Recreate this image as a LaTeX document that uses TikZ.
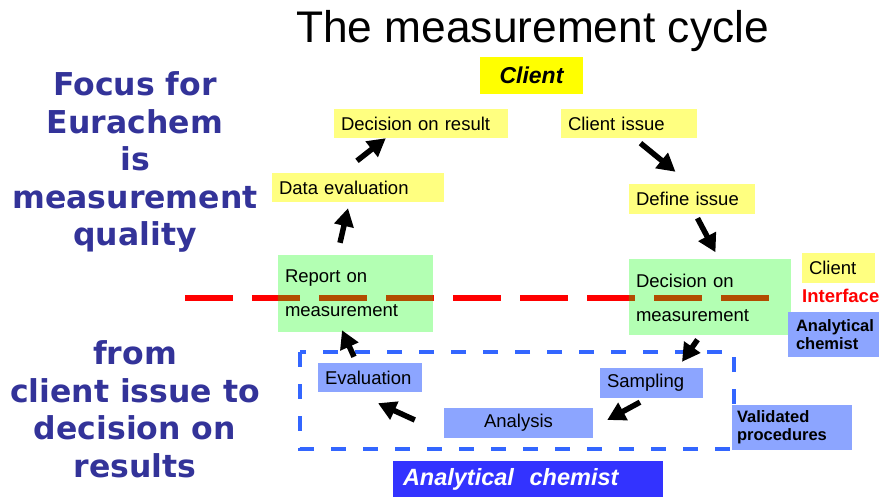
\documentclass[tikz,border=0pt]{standalone}
\usepackage{fontspec}
\setmainfont{Liberation Sans}
\newfontfamily\dejavu{DejaVu Sans}
\usetikzlibrary{arrows.meta}
\definecolor{lyellow}{RGB}{255,255,128}
\definecolor{byellow}{RGB}{255,255,0}
\definecolor{lgreen}{RGB}{179,255,179}
\definecolor{lblue}{RGB}{140,165,255}
\definecolor{dblue}{RGB}{51,51,255}
\definecolor{navy}{RGB}{51,51,153}
\definecolor{dashblue}{RGB}{51,102,255}
\definecolor{brownish}{RGB}{178,76,0}
\tikzset{
  bx/.style={inner xsep=7pt, inner ysep=0pt, align=left, anchor=center,
    font=\fontsize{18.5}{34}\selectfont},
  ybox/.style={bx, fill=lyellow},
  gbox/.style={bx, fill=lgreen},
  bbox/.style={bx, fill=lblue},
  bbold/.style={bx, fill=lblue, font=\fontsize{16.5}{18}\selectfont\bfseries},
  arr/.style={line width=5.5pt, -{Triangle[length=18pt,width=19pt]}, black},
  lefttext/.style={align=center, text=navy, font=\dejavu\fontsize{31.5}{37.5}\selectfont\bfseries}
}
\begin{document}
\begin{tikzpicture}[x=1pt,y=-1pt]
\useasboundingbox (0,0) rectangle (879,497);
% title
\node[anchor=base, font=\fontsize{44.3}{50}\selectfont, inner sep=0pt] (title) at (532.5,43) {The measurement cycle};
\node[bx, fill=byellow, minimum width=103pt, minimum height=37pt, align=center,
  font=\fontsize{23}{26}\selectfont\bfseries\itshape] (clienttop) at (531.5,75.5) {Client};
% left texts
\node[lefttext] (focus) at (135,162) {Focus for\\Eurachem\\is\\measurement\\quality};
\node[lefttext] (from) at (135,409.5) {from\\client issue to\\decision on\\results};
% client boxes
\node[ybox, minimum width=174pt, text width=160pt, minimum height=29pt] (decres) at (421,123.5) {Decision on result};
\node[ybox, minimum width=172pt, text width=158pt, minimum height=29pt] (dataeval) at (358,187.5) {Data evaluation};
\node[ybox, minimum width=136pt, text width=122pt, minimum height=29pt] (cissue) at (629,123.5) {Client issue};
\node[ybox, minimum width=126pt, text width=112pt, minimum height=30pt] (defiss) at (692,199) {Define issue};
% green boxes
\node[gbox, minimum width=155pt, text width=141pt, minimum height=77pt] (report) at (355.5,293.5) {Report on\\measurement};
\node[gbox, minimum width=162pt, text width=148pt, minimum height=76pt] (decmeas) at (710,297.5) {Decision on\\measurement};
% interface line
\draw[red, line width=6pt, dash pattern=on 48pt off 19pt] (185,298) -- (770,298);
\begin{scope}
  \clip (report.south west) rectangle (report.north east)
        (decmeas.south west) rectangle (decmeas.north east);
  \draw[brownish, line width=6pt, dash pattern=on 48pt off 19pt] (185,298) -- (770,298);
\end{scope}
% legend
\node[ybox, minimum width=73pt, text width=59pt, minimum height=30pt] (clientR) at (838.5,268) {Client};
\node[anchor=base west, inner sep=0pt, text=red, font=\fontsize{18.5}{20}\selectfont\bfseries] (interface) at (802,303) {Interface};
\node[bbold, inner xsep=8pt, minimum width=94pt, text width=78pt, minimum height=45pt] (achemR) at (835,334.5) {Analytical\\chemist};
% analytical area
\draw[dashblue, line width=4pt, dash pattern=on 15pt off 17pt] (300,352) rectangle (734,449);
\node[bbox, minimum width=104pt, text width=90pt, minimum height=29pt] (evaluation) at (370,377.5) {Evaluation};
\node[bbox, minimum width=103pt, text width=89pt, minimum height=30pt] (sampling) at (651.5,383) {Sampling};
\node[bbox, align=center, minimum width=149pt, text width=135pt, minimum height=30pt] (analysis) at (518.5,423) {Analysis};
\node[bbold, inner xsep=5pt, minimum width=120pt, text width=110pt, minimum height=45pt] (valid) at (792,427.5) {Validated\\procedures};
\node[bx, fill=dblue, text=white, inner xsep=10pt, minimum width=270pt, text width=250pt, minimum height=36pt,
  font=\fontsize{23.5}{26}\selectfont\bfseries\itshape] (achemB) at (528,479) {Analytical\ \ chemist};
% arrows
\draw[arr] ([shift={(-1,-12)}]dataeval.north) -- ([shift={(52,0)}]decres.south west);
\draw[arr] ([shift={(-15.5,-12)}]report.north) -- ([shift={(-10,6)}]dataeval.south);
\draw[arr] ([shift={(11.5,5)}]cissue.south) -- ([shift={(-16.5,-12)}]defiss.north);
\draw[arr] ([shift={(5.5,4)}]defiss.south) -- ([shift={(5.5,-7)}]decmeas.north);
\draw[arr] ([shift={(-12.5,4)}]decmeas.south) -- ([shift={(30.5,-6)}]sampling.north);
\draw[arr] ([shift={(-11.5,4)}]sampling.south) -- ([shift={(14,-3)}]analysis.east);
\draw[arr] ([shift={(-29,-3)}]analysis.west) -- ([shift={(8,11)}]evaluation.south);
\draw[arr] ([shift={(-16,-6)}]evaluation.north) -- ([shift={(-13.5,-2)}]report.south);
\end{tikzpicture}
\end{document}
